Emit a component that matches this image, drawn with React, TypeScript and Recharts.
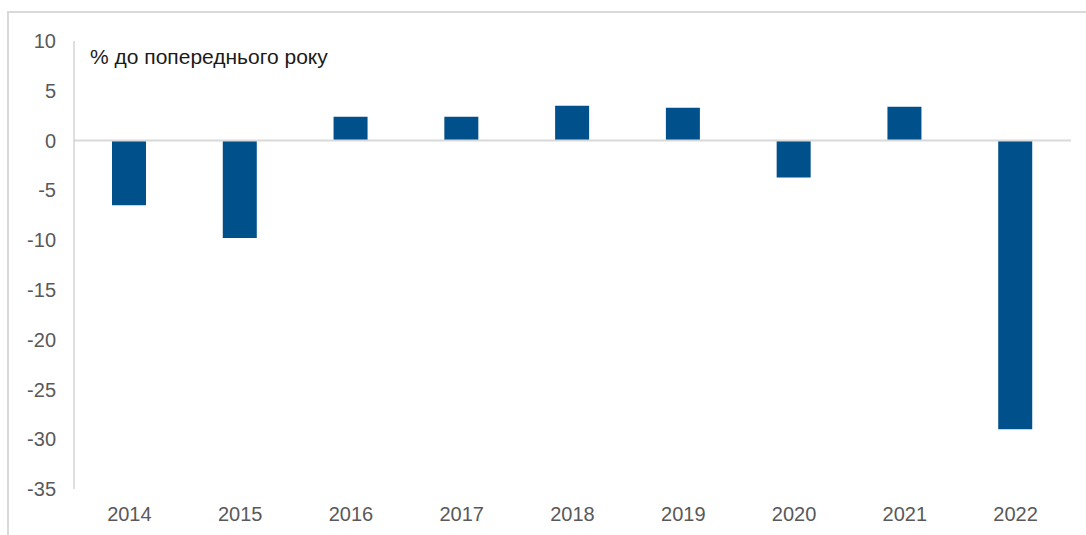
import { BarChart, Bar, XAxis, YAxis, ReferenceLine } from "recharts";

const years = ["2014", "2015", "2016", "2017", "2018", "2019", "2020", "2021", "2022"];
const changes = [-6.5, -9.8, 2.4, 2.4, 3.5, 3.3, -3.7, 3.4, -29.0];
const yTicks = [10, 5, 0, -5, -10, -15, -20, -25, -30, -35];

const data = years.map((year, i) => ({ year, value: changes[i] }));

const labelFont = { fontSize: 20, fill: "#595959", fontFamily: "'Liberation Sans', Arial, sans-serif" };

export default function App() {
  return (
    <div
      style={{
        position: "absolute",
        left: 0,
        top: 0,
        width: 1086,
        height: 535,
        overflow: "hidden",
        background: "#fff",
      }}
    >
      {/* outer frame, only top and left edges are visible */}
      <div
        style={{
          position: "absolute",
          left: 7,
          top: 11,
          width: 1200,
          height: 700,
          border: "2px solid #d9d9d9",
        }}
      />
      <div
        style={{
          position: "absolute",
          left: 90,
          top: 45,
          fontSize: 21,
          color: "#1a1a1a",
          fontFamily: "'Liberation Sans', Arial, sans-serif",
          whiteSpace: "nowrap",
        }}
      >
        % до попереднього року
      </div>
      <BarChart
        width={1086}
        height={535}
        data={data}
        margin={{ top: 41, right: 15, left: 1, bottom: 16 }}
        barSize={34}
        style={{ position: "absolute", left: 0, top: 0 }}
      >
        <XAxis
          dataKey="year"
          axisLine={false}
          tickLine={false}
          tickSize={0}
          tickMargin={18}
          height={30}
          tick={labelFont}
          interval={0}
        />
        <YAxis
          domain={[-35, 10]}
          ticks={yTicks}
          interval={0}
          width={73}
          axisLine={{ stroke: "#bfbfbf", strokeWidth: 1 }}
          tickLine={false}
          tickSize={0}
          tickMargin={18}
          tick={labelFont}
        />
        <ReferenceLine y={0} stroke="#d9d9d9" strokeWidth={2} />
        <Bar dataKey="value" fill="#00508b" isAnimationActive={false} />
      </BarChart>
    </div>
  );
}
